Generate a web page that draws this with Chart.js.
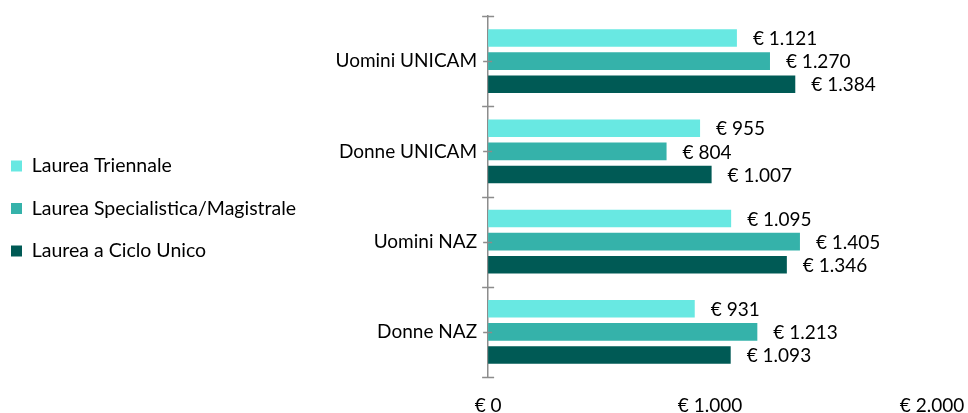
<!DOCTYPE html>
<html>
<head>
<meta charset="utf-8">
<script src="https://cdn.jsdelivr.net/npm/chart.js@4/dist/chart.umd.min.js"></script>
<style>
  html, body { margin: 0; padding: 0; background: #fff; }
  #wrap { width: 968px; height: 413px; }
</style>
</head>
<body>
<div id="wrap"><canvas id="myChart" width="968" height="413"></canvas></div>
<script>
"use strict";

let categories = ['Uomini UNICAM', 'Donne UNICAM', 'Uomini NAZ', 'Donne NAZ'];
let seriesNames = ['Laurea Triennale', 'Laurea Specialistica/Magistrale', 'Laurea a Ciclo Unico'];
let triennale = [1121, 955, 1095, 931];
let magistrale = [1270, 804, 1405, 1213];
let cicloUnico = [1384, 1007, 1346, 1093];
let xTicks = [0, 1000, 2000];

let colors = ['#68e8e2', '#35b2aa', '#005a55'];
let axisColor = '#8c8c8c';
let fontFamily = 'Lato, "Open Sans", sans-serif';
let fontSize = 19;

function euro(v) {
  return '€ ' + String(v).replace(/\B(?=(\d{3})+(?!\d))/g, '.');
}

// labels at the end of each bar
let barLabels = {
  id: 'barLabels',
  afterDatasetsDraw(chart) {
    let ctx = chart.ctx;
    ctx.save();
    ctx.font = fontSize + 'px ' + fontFamily;
    ctx.fillStyle = '#000';
    ctx.textAlign = 'left';
    ctx.textBaseline = 'middle';
    chart.data.datasets.forEach((ds, i) => {
      let meta = chart.getDatasetMeta(i);
      meta.data.forEach((bar, j) => {
        ctx.fillText(euro(ds.data[j]), bar.x + 16, bar.y + 1);
      });
    });
    ctx.restore();
  }
};

// tick marks crossing the vertical axis
let axisTicks = {
  id: 'axisTicks',
  afterDraw(chart) {
    let y = chart.scales.y;
    let x0 = chart.scales.x.getPixelForValue(0);
    let ctx = chart.ctx;
    ctx.save();
    ctx.strokeStyle = axisColor;
    ctx.lineWidth = 1.5;
    ctx.beginPath();
    for (let i = 0; i <= categories.length; i++) {
      let py = Math.round(y.getPixelForValue(i - 0.5)) + 0.5;
      ctx.moveTo(x0 - 6, py);
      ctx.lineTo(x0 + 6, py);
    }
    for (let i = 0; i < categories.length; i++) {
      let py = Math.round(y.getPixelForValue(i)) + 0.5;
      ctx.moveTo(x0 - 5, py);
      ctx.lineTo(x0 + 4, py);
    }
    ctx.stroke();
    ctx.restore();
  }
};

// nudge the legend to the reference position
let legendShift = {
  id: 'legendShift',
  afterLayout(chart) {
    chart.legend.left -= 12;
    chart.legend.top -= 6;
    chart.legend.bottom -= 6;
  }
};

let chartObject = {
  type: 'bar',
  data: {
    labels: categories,
    datasets: [
      { label: seriesNames[0], data: triennale, backgroundColor: colors[0] },
      { label: seriesNames[1], data: magistrale, backgroundColor: colors[1] },
      { label: seriesNames[2], data: cicloUnico, backgroundColor: colors[2] }
    ]
  },
  options: {
    indexAxis: 'y',
    responsive: false,
    animation: false,
    devicePixelRatio: 1,
    datasets: {
      bar: { categoryPercentage: 0.767, barPercentage: 0.76 }
    },
    layout: { padding: { top: 16, right: 36, bottom: 0, left: 0 } },
    plugins: {
      tooltip: { enabled: false },
      legend: {
        position: 'left',
        maxWidth: 319,
        labels: {
          boxWidth: 11,
          boxHeight: 11,
          padding: 23,
          color: '#000',
          font: { family: fontFamily, size: 19.5 }
        }
      }
    },
    scales: {
      x: {
        min: 0,
        max: 2000,
        afterBuildTicks(scale) {
          scale.ticks = xTicks.map(v => ({ value: v }));
        },
        afterFit(scale) {
          scale.height = 36;
          scale.paddingLeft = 0;
          scale.paddingRight = 0;
        },
        grid: { display: false, drawTicks: false },
        border: { display: false },
        ticks: {
          padding: 17,
          maxRotation: 0,
          color: '#000',
          font: { family: fontFamily, size: fontSize },
          callback: v => euro(v)
        }
      },
      y: {
        grid: { display: false, drawTicks: false },
        border: { display: true, color: axisColor, width: 1.5 },
        afterFit(scale) {
          scale.width = 170;
          scale.paddingTop = 0;
          scale.paddingBottom = 0;
        },
        ticks: {
          padding: 11,
          color: '#000',
          font: { family: fontFamily, size: fontSize }
        }
      }
    }
  },
  plugins: [barLabels, axisTicks, legendShift]
};

let ctx = document.getElementById('myChart').getContext('2d');
let myChart = new Chart(ctx, chartObject);
</script>
</body>
</html>
